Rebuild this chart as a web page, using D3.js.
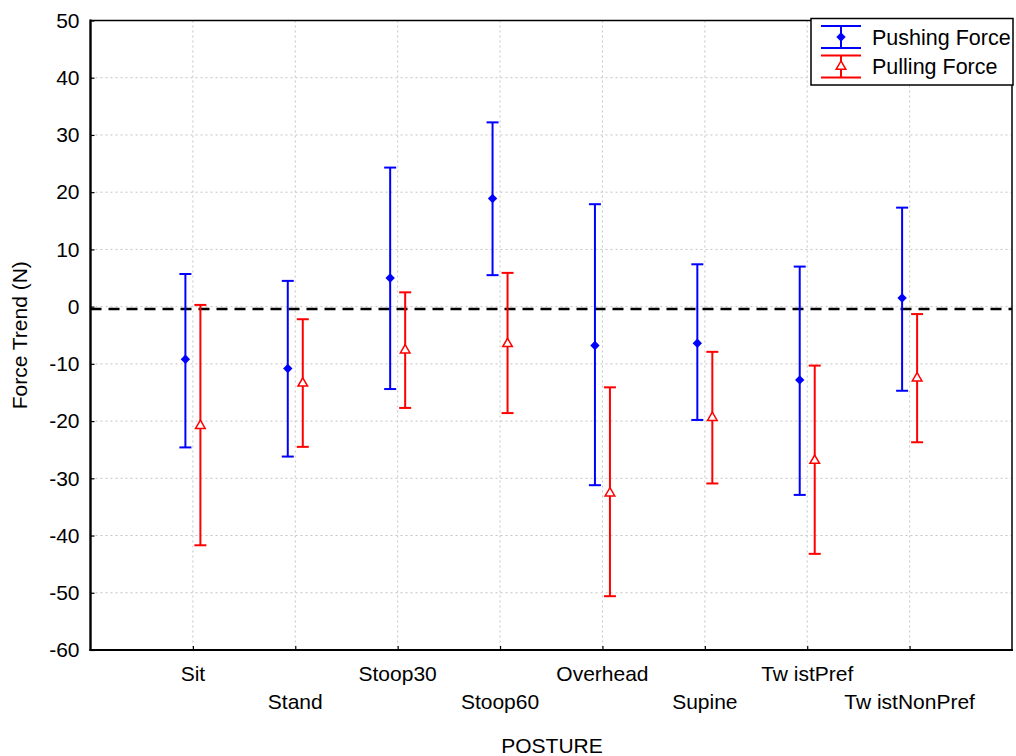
<!DOCTYPE html>
<html><head><meta charset="utf-8">
<script src="https://cdn.jsdelivr.net/npm/d3@7"></script>
<style>
html,body{margin:0;padding:0;background:#fff;}
svg{display:block;font-family:"Liberation Sans",Arial,sans-serif;}
</style></head>
<body>
<svg id="chart" width="1016" height="756"></svg>
<script>
const categories = ["Sit","Stand","Stoop30","Stoop60","Overhead","Supine","Tw istPref","Tw istNonPref"];
const pushMean = [-9.2,-10.8,5.0,18.9,-6.8,-6.4,-12.8,1.5];
const pushLow  = [-24.6,-26.2,-14.4,5.5,-31.2,-19.8,-32.9,-14.7];
const pushHigh = [5.7,4.5,24.3,32.2,17.9,7.4,7.0,17.3];
const pullMean = [-20.8,-13.4,-7.6,-6.5,-32.6,-19.4,-26.9,-12.5];
const pullLow  = [-41.7,-24.5,-17.7,-18.6,-50.6,-30.9,-43.2,-23.7];
const pullHigh = [0.3,-2.2,2.5,5.9,-14.1,-7.9,-10.3,-1.3];
const refLine = -0.4;
const yTicks = [50,40,30,20,10,0,-10,-20,-30,-40,-50,-60];
const seriesNames = ["Pushing Force","Pulling Force"];

const svg = d3.select("#chart");
const L = 90.5, R = 1012, T = 20.5, B = 650;
const FS = 21;
const x = d3.scaleLinear().domain([0, 9]).range([L, R]);
const y = d3.scaleLinear().domain([-60, 50]).range([B, T]);

// grid
const grid = svg.append("g").attr("stroke","#c4c4c4").attr("stroke-width",1).attr("stroke-dasharray","2,3");
yTicks.forEach(v => grid.append("line").attr("x1",L).attr("x2",R).attr("y1",y(v)).attr("y2",y(v)));
categories.forEach((c,i) => grid.append("line").attr("x1",x(i+1)).attr("x2",x(i+1)).attr("y1",T).attr("y2",B));

// axes
const yAxis = d3.axisLeft(y).tickValues(yTicks).tickSize(-4).tickPadding(11).tickFormat(d => String(d));
const gy = svg.append("g").attr("transform",`translate(${L},0)`).call(yAxis);
gy.select(".domain").remove();
gy.selectAll(".tick line").attr("stroke","#000").attr("stroke-width",1.2);
gy.selectAll("text").attr("font-size",FS).attr("fill","#000").attr("font-family","Liberation Sans, Arial, sans-serif");

const xAxis = d3.axisBottom(x).tickValues(d3.range(1,9)).tickSize(-4).tickFormat("");
const gx = svg.append("g").attr("transform",`translate(0,${B})`).call(xAxis);
gx.select(".domain").remove();
gx.selectAll(".tick line").attr("stroke","#000").attr("stroke-width",1.2);

categories.forEach((c,i) => {
  svg.append("text").attr("x",x(i+1)).attr("y", i%2===0 ? 681 : 709)
    .attr("text-anchor","middle").attr("font-size",FS).attr("fill","#000").text(c);
});

// frame
svg.append("rect").attr("x",L).attr("y",T).attr("width",R-L).attr("height",B-T)
  .attr("fill","none").attr("stroke","#000").attr("stroke-width",1.5);
svg.append("line").attr("x1",L).attr("x2",L).attr("y1",T-1).attr("y2",B+1).attr("stroke","#000").attr("stroke-width",2.2);
svg.append("line").attr("x1",L-1).attr("x2",R+1).attr("y1",B).attr("y2",B).attr("stroke","#000").attr("stroke-width",2.2);

// axis titles
svg.append("text").attr("transform",`translate(27,${(T+B)/2}) rotate(-90)`).attr("text-anchor","middle")
  .attr("font-size",FS).attr("fill","#000").text("Force Trend (N)");
svg.append("text").attr("x",552).attr("y",753).attr("text-anchor","middle")
  .attr("font-size",FS).attr("fill","#000").text("POSTURE");

// reference dashed line
svg.append("line").attr("x1",L).attr("x2",R).attr("y1",y(refLine)).attr("y2",y(refLine))
  .attr("stroke","#000").attr("stroke-width",2.5).attr("stroke-dasharray","11,7");

const diamond = d3.symbol().type(d3.symbolSquare).size(44);
const tri = d3.symbol().type(d3.symbolTriangle).size(40);
const capW = 6;

function drawSeries(mean, low, high, color, off, isPush){
  const g = svg.append("g");
  mean.forEach((m,i) => {
    const cx = x(i+1) + off;
    g.append("line").attr("x1",cx).attr("x2",cx).attr("y1",y(low[i])).attr("y2",y(high[i])).attr("stroke",color).attr("stroke-width",2);
    [low[i],high[i]].forEach(v => g.append("line").attr("x1",cx-capW).attr("x2",cx+capW).attr("y1",y(v)).attr("y2",y(v)).attr("stroke",color).attr("stroke-width",2));
    if(isPush){
      g.append("path").attr("d",diamond()).attr("transform",`translate(${cx},${y(m)}) rotate(45)`).attr("fill",color);
    } else {
      g.append("path").attr("d",tri()).attr("transform",`translate(${cx},${y(m)})`).attr("fill","#fff").attr("stroke",color).attr("stroke-width",1.5);
    }
  });
}
drawSeries(pushMean, pushLow, pushHigh, "#0000ff", -7.5, true);
drawSeries(pullMean, pullLow, pullHigh, "#ff0000", 7.5, false);

// legend
const lg = svg.append("g");
lg.append("rect").attr("x",811).attr("y",18.5).attr("width",202).attr("height",66.5)
  .attr("fill","#fff").attr("stroke","#000").attr("stroke-width",1.5);
const legendItems = [
  {name:seriesNames[0], color:"#0000ff", y1:26, y2:48, push:true},
  {name:seriesNames[1], color:"#ff0000", y1:55.5, y2:77.5, push:false}
];
legendItems.forEach(it => {
  const cx = 841, cy = (it.y1+it.y2)/2;
  lg.append("line").attr("x1",cx).attr("x2",cx).attr("y1",it.y1).attr("y2",it.y2).attr("stroke",it.color).attr("stroke-width",2);
  [it.y1,it.y2].forEach(v => lg.append("line").attr("x1",821).attr("x2",861).attr("y1",v).attr("y2",v).attr("stroke",it.color).attr("stroke-width",2));
  if(it.push) lg.append("path").attr("d",diamond()).attr("transform",`translate(${cx},${cy}) rotate(45)`).attr("fill",it.color);
  else lg.append("path").attr("d",tri()).attr("transform",`translate(${cx},${cy})`).attr("fill","#fff").attr("stroke",it.color).attr("stroke-width",1.5);
  lg.append("text").attr("x",872).attr("y",cy+7.5).attr("font-size",21.5).attr("fill","#000").text(it.name);
});
</script>
</body></html>
